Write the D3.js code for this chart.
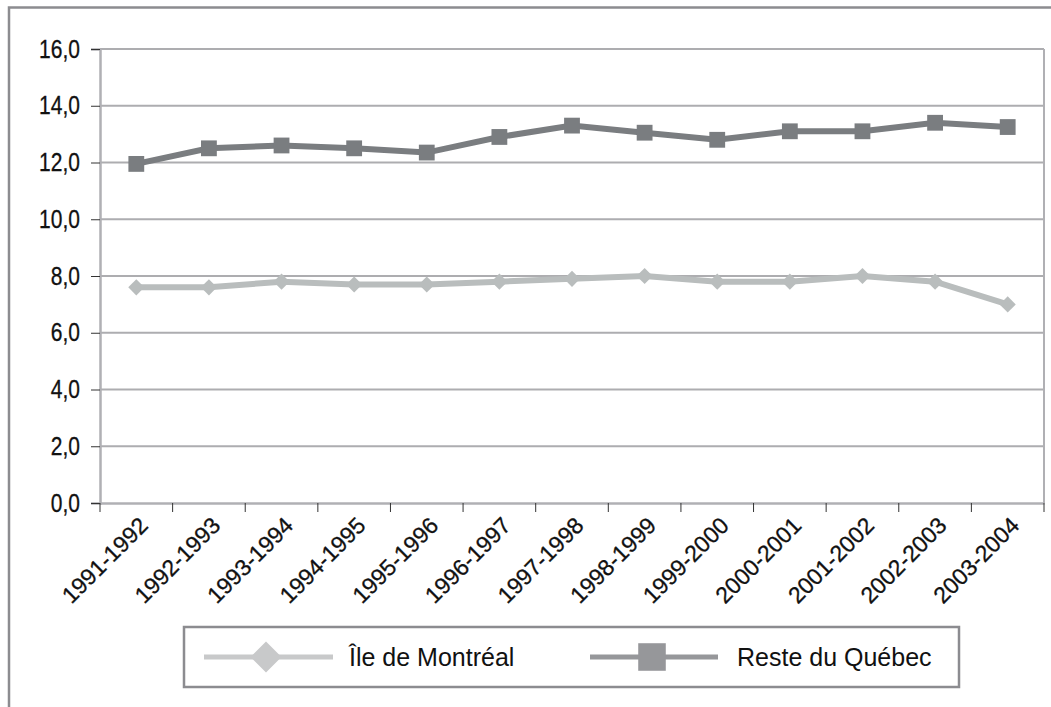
<!DOCTYPE html>
<html>
<head>
<meta charset="utf-8">
<script src="https://cdn.jsdelivr.net/npm/d3@7"></script>
<style>
  body { margin: 0; background: #fff; }
  svg { display: block; }
</style>
</head>
<body>
<svg id="chart" width="1051" height="707"></svg>
<script>
const periods = [
  "1991-1992", "1992-1993", "1993-1994", "1994-1995", "1995-1996", "1996-1997",
  "1997-1998", "1998-1999", "1999-2000", "2000-2001", "2001-2002", "2002-2003", "2003-2004"
];
const montreal = [7.6, 7.6, 7.8, 7.7, 7.7, 7.8, 7.9, 8.0, 7.8, 7.8, 8.0, 7.8, 7.0];
const resteQuebec = [11.95, 12.5, 12.6, 12.5, 12.35, 12.9, 13.3, 13.05, 12.8, 13.1, 13.1, 13.4, 13.25];
const yTicks = [0, 2, 4, 6, 8, 10, 12, 14, 16];

const series = [
  { name: "Île de Montréal", values: montreal, color: "#b9bdbd", legendColor: "#c8c9ca", rotate: 45, size: 130, legendSize: 480 },
  { name: "Reste du Québec", values: resteQuebec, color: "#7a7d80", legendColor: "#96979a", rotate: 0, size: 250, legendSize: 760 }
];

const svg = d3.select("#chart");
const margin = { left: 100, top: 49, right: 1044, bottom: 503 };
const font = "'Liberation Sans', Arial, sans-serif";

// y labels look horizontally squeezed in the source; squeeze the regular face
function squeeze(k) {
  return sel => sel.each(function () {
    const w = this.getComputedTextLength();
    d3.select(this)
      .attr("textLength", w * k)
      .attr("lengthAdjust", "spacingAndGlyphs");
  });
}

// outer frame
svg.append("path")
  .attr("d", "M9,707 V7.5 H1051")
  .attr("fill", "none")
  .attr("stroke", "#8c8c90")
  .attr("stroke-width", 2.5);

const x = d3.scaleBand()
  .domain(periods)
  .range([margin.left, margin.right]);

const y = d3.scaleLinear()
  .domain([0, 16])
  .range([margin.bottom, margin.top]);

// gridlines
svg.append("g")
  .selectAll("line")
  .data(yTicks.filter(d => d > 0))
  .join("line")
  .attr("x1", margin.left)
  .attr("x2", margin.right)
  .attr("y1", d => y(d))
  .attr("y2", d => y(d))
  .attr("stroke", "#adadb0")
  .attr("stroke-width", 2);

// right border of plot
svg.append("line")
  .attr("x1", margin.right).attr("x2", margin.right)
  .attr("y1", margin.top).attr("y2", margin.bottom)
  .attr("stroke", "#b0b0b4")
  .attr("stroke-width", 2);

// y axis
const yAxis = svg.append("g")
  .attr("transform", `translate(${margin.left},0)`)
  .call(d3.axisLeft(y).tickValues(yTicks).tickSize(9).tickPadding(11)
    .tickFormat(d => d3.format(".1f")(d).replace(".", ",")));
yAxis.select(".domain").attr("stroke", "#b0b0b4").attr("stroke-width", 2.5);
yAxis.selectAll(".tick line").attr("stroke", "#333").attr("stroke-width", 1);
yAxis.selectAll("text")
  .attr("font-family", font)
  .attr("font-size", 25)
  .attr("fill", "#111")
  .attr("stroke", "#111")
  .attr("stroke-width", 0.3)
  .call(squeeze(0.84));

// x axis
const xAxis = svg.append("g")
  .attr("transform", `translate(0,${margin.bottom})`)
  .call(d3.axisBottom(x).tickSize(0).tickFormat(""));
xAxis.select(".domain").attr("stroke", "#b0b0b4").attr("stroke-width", 2.5);

svg.append("g")
  .selectAll("line")
  .data(periods.concat(["end"]))
  .join("line")
  .attr("x1", (d, i) => margin.left + i * x.bandwidth())
  .attr("x2", (d, i) => margin.left + i * x.bandwidth())
  .attr("y1", margin.bottom)
  .attr("y2", margin.bottom + 9)
  .attr("stroke", "#333")
  .attr("stroke-width", 1);

svg.append("g")
  .selectAll("text")
  .data(periods)
  .join("text")
  .attr("transform", d => `translate(${x(d) + x.bandwidth() / 2 + 13},${margin.bottom + 24}) rotate(-45)`)
  .attr("text-anchor", "end")
  .attr("font-family", font)
  .attr("font-size", 23)
  .attr("fill", "#111")
  .attr("stroke", "#111")
  .attr("stroke-width", 0.3)
  .text(d => d);

// lines and markers
const line = d3.line()
  .x((d, i) => x(periods[i]) + x.bandwidth() / 2)
  .y(d => y(d));

series.forEach(s => {
  svg.append("path")
    .datum(s.values)
    .attr("fill", "none")
    .attr("stroke", s.color)
    .attr("stroke-width", 6)
    .attr("d", line);

  svg.append("g")
    .selectAll("path")
    .data(s.values)
    .join("path")
    .attr("transform", (d, i) => `translate(${x(periods[i]) + x.bandwidth() / 2},${y(d)}) rotate(${s.rotate})`)
    .attr("d", d3.symbol().type(d3.symbolSquare).size(s.size))
    .attr("fill", s.color);
});

// legend
const legend = svg.append("g");
legend.append("rect")
  .attr("x", 184).attr("y", 627)
  .attr("width", 775).attr("height", 60)
  .attr("fill", "#fff")
  .attr("stroke", "#8c8c90")
  .attr("stroke-width", 2.5);

const legendItems = [
  { x0: 204, x1: 333, cx: 266, tx: 349 },
  { x0: 590, x1: 718, cx: 652, tx: 737 }
];

legendItems.forEach((it, i) => {
  const s = series[i];
  legend.append("line")
    .attr("x1", it.x0).attr("x2", it.x1)
    .attr("y1", 657).attr("y2", 657)
    .attr("stroke", s.legendColor)
    .attr("stroke-width", 5);
  legend.append("path")
    .attr("transform", `translate(${it.cx},657) rotate(${s.rotate})`)
    .attr("d", d3.symbol().type(d3.symbolSquare).size(s.legendSize))
    .attr("fill", s.legendColor);
  legend.append("text")
    .attr("x", it.tx).attr("y", 666)
    .attr("font-family", font)
    .attr("font-size", 25)
    .attr("fill", "#111")
    .text(s.name);
});
</script>
</body>
</html>
